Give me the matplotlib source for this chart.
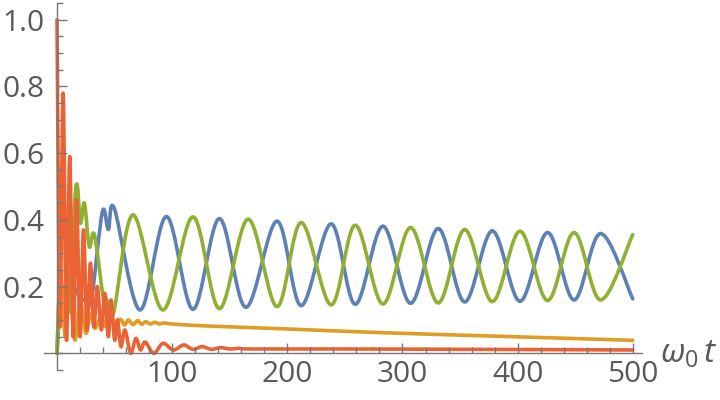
import matplotlib
matplotlib.use("Agg")
import matplotlib.pyplot as plt
import numpy as np
from matplotlib.path import Path
from matplotlib.patches import PathPatch
from matplotlib.ticker import MultipleLocator, FixedLocator

# values (extrema and a few turning points)
blue_t = [0, 4, 9, 14, 21, 27, 30, 39.4, 44.6, 49.8, 72, 95, 118, 141, 164, 191, 212, 238,
          259, 283, 307, 331, 354, 378, 402, 426, 449, 472, 500]
blue_y = [0, 0.20, 0.14, 0.20, 0.16, 0.17, 0.16, 0.424, 0.371, 0.434, 0.13, 0.41, 0.132, 0.404,
          0.138, 0.396, 0.143, 0.388, 0.147, 0.381, 0.150, 0.374, 0.154, 0.367, 0.156, 0.362,
          0.160, 0.359, 0.163]

orange_t = [0, 3, 7, 10.5, 15.5, 20, 25, 29, 33, 38, 42, 46, 51, 55, 58.6, 62, 66, 70, 73.5,
            77, 81, 85, 89, 93, 100, 130, 200, 281, 385, 500]
orange_y = [0, 0.25, 0.05, 0.20, 0.04, 0.16, 0.06, 0.12, 0.075, 0.11, 0.08, 0.10, 0.084, 0.102,
            0.085, 0.10, 0.086, 0.098, 0.087, 0.095, 0.088, 0.093, 0.088, 0.091, 0.088, 0.082,
            0.073, 0.062, 0.051, 0.039]

green_t = [0, 5.5, 9.5, 16.5, 20.3, 23.8, 28, 32.5, 40.5, 43, 49, 66, 92, 118, 141, 166, 191,
           212, 238, 259, 283, 307, 331, 354, 378, 402, 426, 449, 472, 500]
green_y = [0, 0.47, 0.12, 0.50, 0.39, 0.45, 0.32, 0.355, 0.158, 0.162, 0.12, 0.415, 0.13, 0.409,
           0.134, 0.402, 0.14, 0.392, 0.145, 0.384, 0.148, 0.377, 0.151, 0.371, 0.155, 0.366,
           0.158, 0.362, 0.16, 0.356]

red_t = [0, 2.5, 5.3, 8.2, 11, 14, 17, 20, 23, 26, 29, 32, 35, 38.5, 41.5, 44.5, 47, 50, 52.5,
         55.5, 59, 64, 68.5, 72.5, 76.5, 84, 92, 101, 110, 118, 126, 134, 142, 150, 158, 170,
         250, 350, 500]
red_y = [1.0, 0.08, 0.78, 0.04, 0.59, 0.05, 0.46, 0.05, 0.37, 0.07, 0.27, 0.08, 0.20, 0.07,
         0.18, 0.05, 0.16, 0.04, 0.10, 0.02, 0.07, 0.0, 0.045, 0.01, 0.034, 0.0, 0.03, 0.01,
         0.025, 0.012, 0.02, 0.012, 0.017, 0.013, 0.015, 0.013, 0.013, 0.012, 0.01]

series = [(blue_t, blue_y, "#5e81b5"), (orange_t, orange_y, "#e19c24"),
          (green_t, green_y, "#8fb032"), (red_t, red_y, "#eb6235")]

x_major = [100, 200, 300, 400, 500]
y_major = [0.2, 0.4, 0.6, 0.8, 1.0]


def smooth_path(t, y):
    # Catmull-Rom curve drawn as cubic Bezier segments through the points
    p = np.column_stack([t, y]).astype(float)
    verts = [p[0]]
    codes = [Path.MOVETO]
    n = len(p)
    for i in range(n - 1):
        p0 = p[i - 1] if i > 0 else p[i]
        p1, p2 = p[i], p[i + 1]
        p3 = p[i + 2] if i + 2 < n else p[i + 1]
        verts += [p1 + (p2 - p0) / 6, p2 - (p3 - p1) / 6, p2]
        codes += [Path.CURVE4] * 3
    return Path(verts, codes)


plt.rcParams['font.family'] = ['Open Sans', 'DejaVu Sans']
plt.rcParams['mathtext.fontset'] = 'custom'
plt.rcParams['mathtext.it'] = 'Open Sans:italic'
plt.rcParams['mathtext.rm'] = 'Open Sans'

axis_col = '#777777'
text_col = '#5a5a5a'

fig = plt.figure(figsize=(7.2, 4), dpi=100)
ax = fig.add_axes([44 / 720, 1 - 370 / 400, 598 / 720, 367 / 400])

for t, y, c in series:
    ax.add_patch(PathPatch(smooth_path(t, y), facecolor='none', edgecolor=c, lw=2.6,
                           capstyle='round', joinstyle='round'))

ax.set_xlim(-11.3, 508)
ax.set_ylim(-0.05, 1.05)

for s in ['top', 'right']:
    ax.spines[s].set_visible(False)
ax.spines['left'].set_position(('data', 0))
ax.spines['bottom'].set_position(('data', 0))
for s in ['left', 'bottom']:
    ax.spines[s].set_color(axis_col)
    ax.spines[s].set_linewidth(1.0)

ax.xaxis.set_major_locator(FixedLocator(x_major))
ax.xaxis.set_minor_locator(MultipleLocator(20))
ax.yaxis.set_major_locator(FixedLocator(y_major))
ax.yaxis.set_minor_locator(MultipleLocator(0.05))
ax.set_xticklabels([str(v) for v in x_major])
ax.set_yticklabels(['%.1f' % v for v in y_major])

ax.tick_params(which='both', direction='in', color=axis_col, width=1.0)
ax.tick_params(which='major', length=7)
ax.tick_params(which='minor', length=4)
ax.tick_params(axis='x', which='major', pad=5, labelsize=21.5, labelcolor=text_col)
ax.tick_params(axis='y', which='major', pad=9, labelsize=21.5, labelcolor=text_col)

fig.text(660 / 720, 1 - 363 / 400, r'$\omega_0\,t$', fontsize=24, color=text_col,
         ha='left', va='baseline')

fig.savefig('out.png', dpi=100)
